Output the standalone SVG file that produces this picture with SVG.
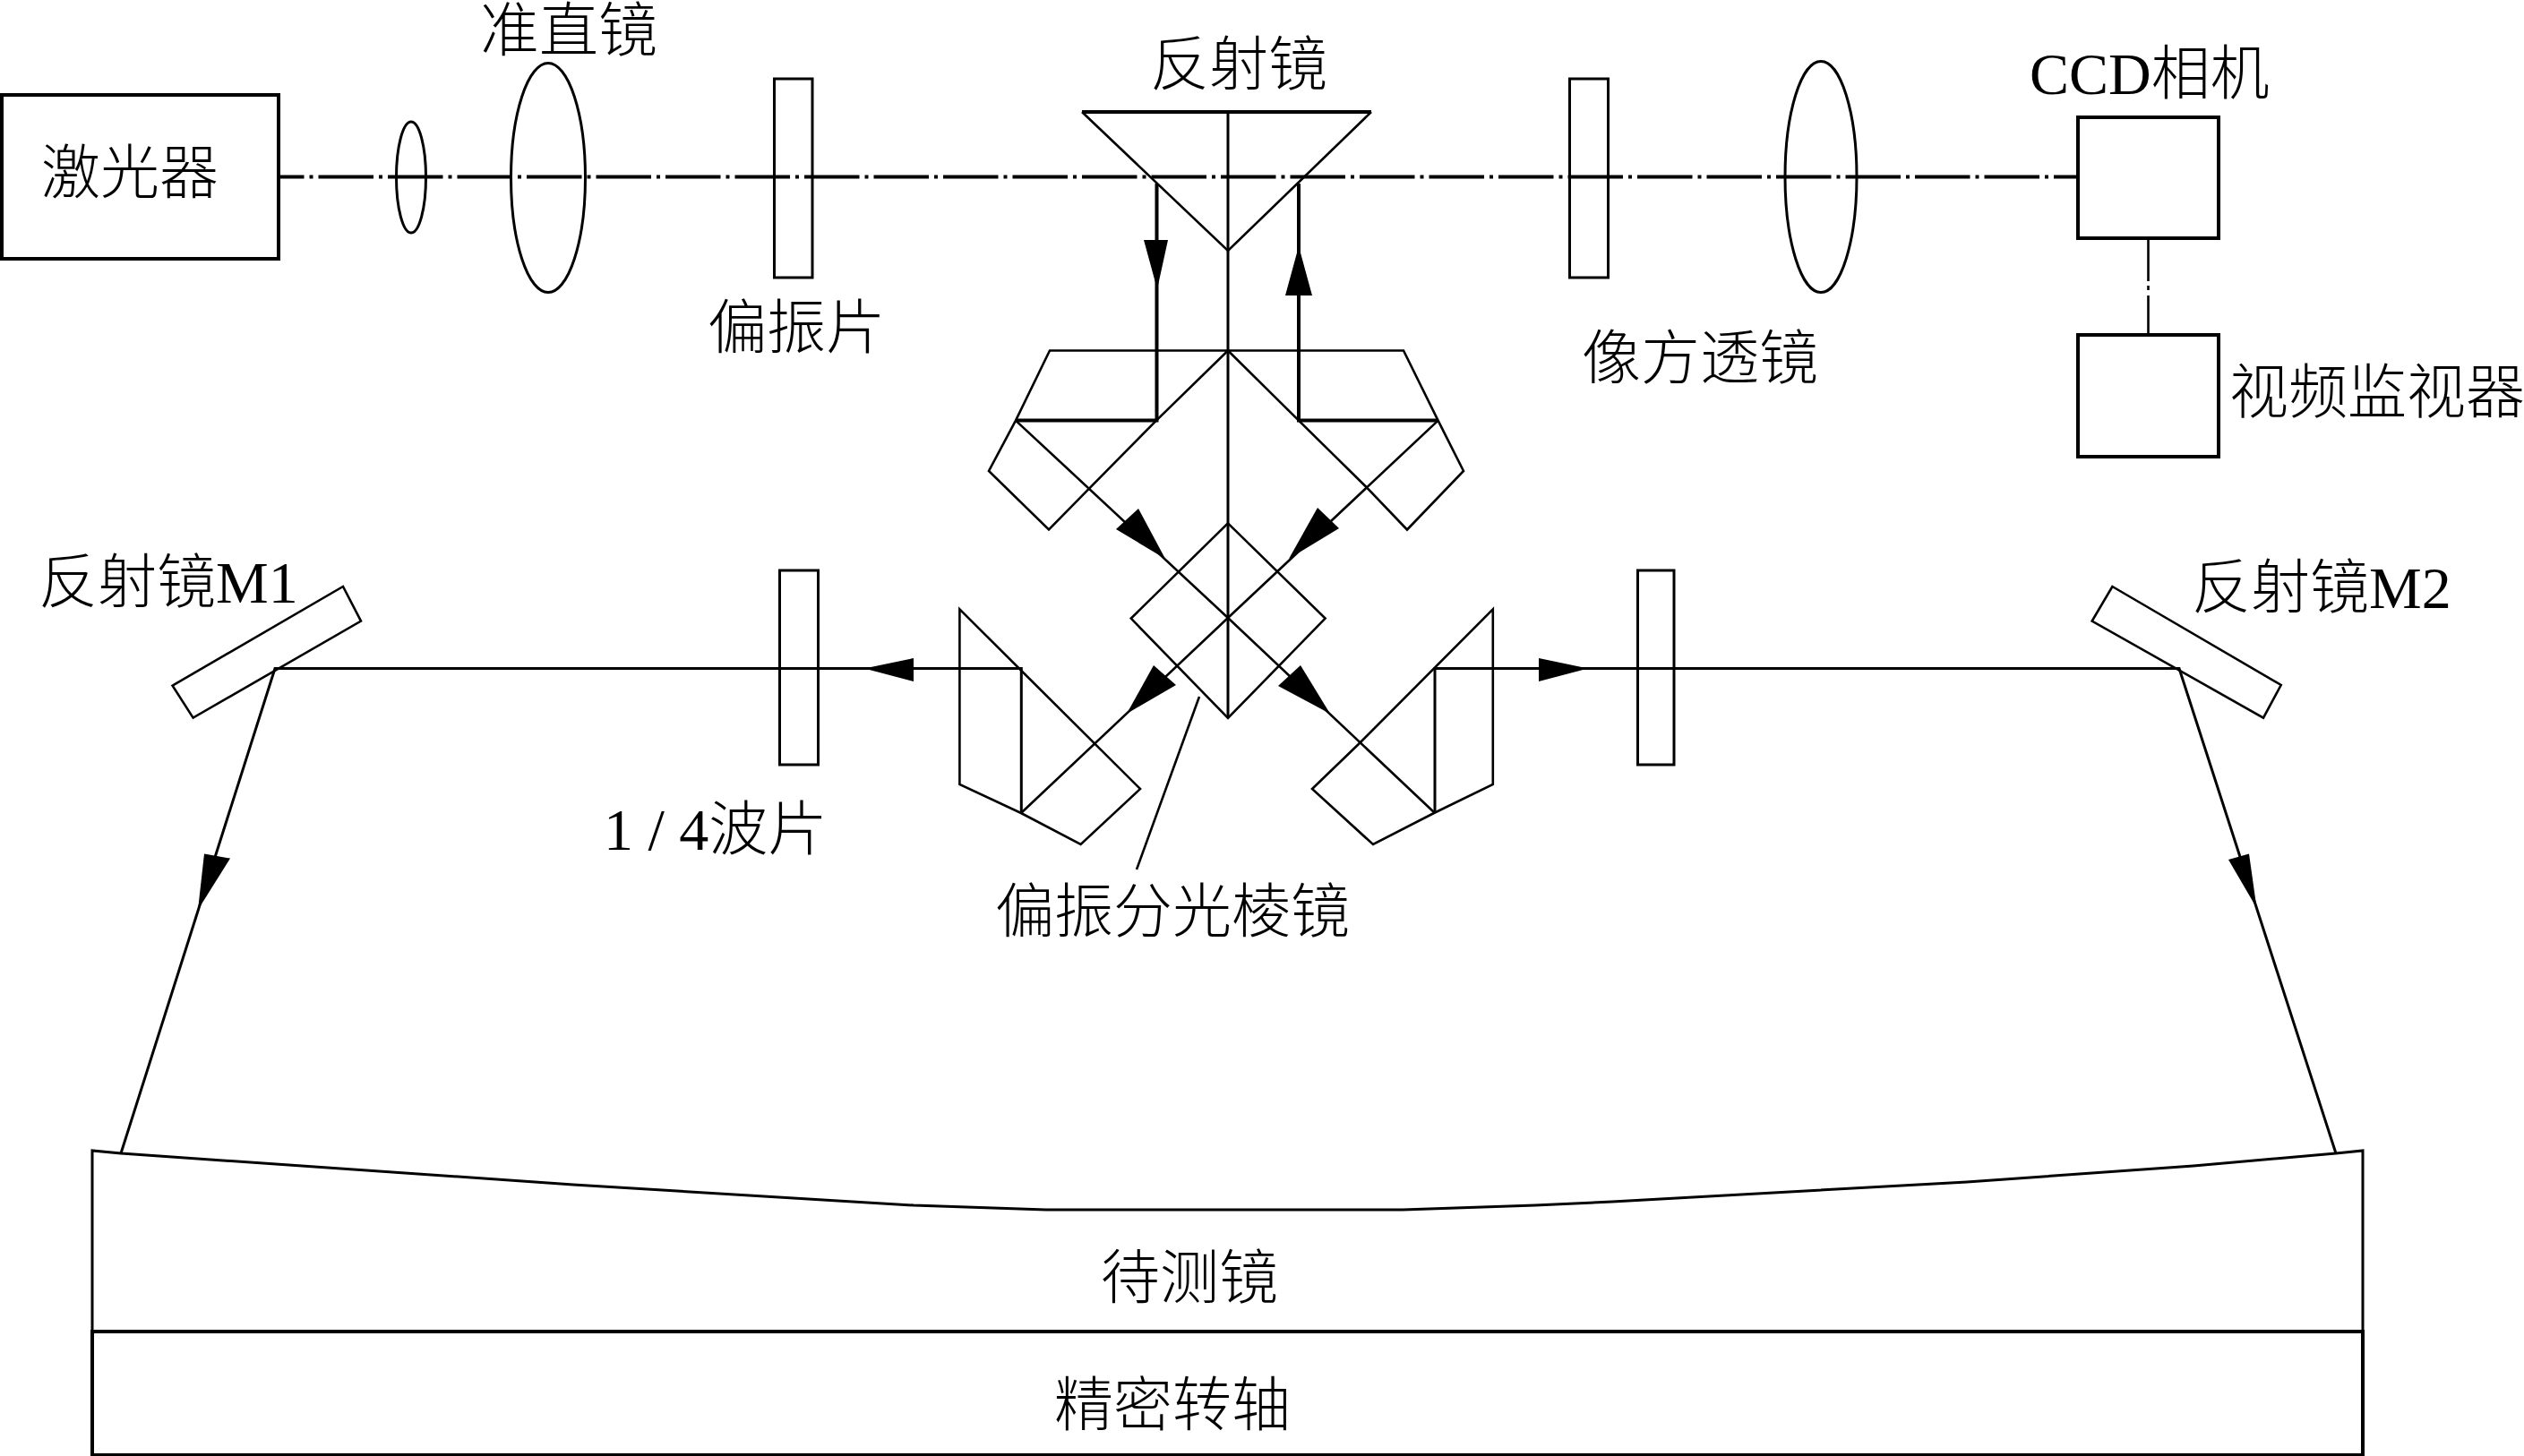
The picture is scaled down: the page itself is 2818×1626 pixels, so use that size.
<svg xmlns="http://www.w3.org/2000/svg" width="2818" height="1626" viewBox="0 0 2818 1626">
<style>
.s{fill:none;stroke:#000;stroke-width:3;stroke-linejoin:miter}
.t{fill:none;stroke:#000;stroke-width:2.6;stroke-linejoin:miter}
.k{fill:none;stroke:#000;stroke-width:4}
.a{fill:#000;stroke:none}
text{font-family:"Liberation Serif","Noto Sans CJK SC",serif;font-size:66px;font-weight:300;fill:#000}
</style>
<rect width="2818" height="1626" fill="#fff"/>
<g id="connectors">
<path class="k" d="M312 197.5H2319" stroke-dasharray="61.5 6 4 6" stroke-dashoffset="34"/>
<path class="t" d="M2398.5 266V374" stroke-dasharray="48 5 5 6 60"/>
<path class="s" d="M1371 125V802"/>
<path class="k" d="M1291.5 205V469.6H1134"/>
<path class="k" d="M1450 205V469.6H1605.6"/>
<path class="t" d="M1134 469.6L1371 690L1602 908"/>
<path class="t" d="M1605.6 469.6L1371 690L1140 908"/>
<path class="s" d="M1140.3 908V746.5H307L135 1288"/>
<path class="s" d="M1602 908V746.5H2433L2608 1288"/>
<path class="t" d="M1339 778L1269 971"/>
<polygon class="a" points="1277,268 1304,268 1292,323"/>
<polygon class="a" points="1435,330 1465,330 1450,275"/>
<polygon class="a" points="1246,591 1271,568 1301,624"/>
<polygon class="a" points="1471,567 1495,590 1439,624"/>
<polygon class="a" points="1288,743 1313,765 1258,797"/>
<polygon class="a" points="1452,743 1427,766 1485,797"/>
<polygon class="a" points="1020,735 1020,761 965,746.5"/>
<polygon class="a" points="1718,735 1718,761 1773,746.5"/>
<polygon class="a" points="228,953.4 257,958.6 221,1016"/>
<polygon class="a" points="2488,960 2511,953.4 2519.5,1014"/>
</g>
<g id="laser"><rect class="k" x="2" y="106" width="309" height="183"/><text x="46" y="216">激光器</text></g>
<g id="lens-small"><ellipse class="s" cx="459" cy="198" rx="16.5" ry="62"/></g>
<g id="collimator"><ellipse class="s" cx="612" cy="198.5" rx="41.5" ry="128"/><text x="536" y="57">准直镜</text></g>
<g id="polarizer"><rect class="s" x="864.5" y="88" width="42.5" height="222"/><text x="790" y="389">偏振片</text></g>
<g id="top-mirror"><path class="k" d="M1208 125H1531"/><path class="t" d="M1208 125L1371 280L1531 125"/><text x="1284" y="95">反射镜</text></g>
<g id="image-polarizer"><rect class="s" x="1752.5" y="88" width="43" height="222"/></g>
<g id="image-lens"><ellipse class="s" cx="2033" cy="197.5" rx="40" ry="129"/><text x="1766" y="423">像方透镜</text></g>
<g id="ccd"><rect class="k" x="2320" y="131" width="157" height="135"/><text x="2266" y="105">CCD相机</text></g>
<g id="monitor"><rect class="k" x="2320" y="374" width="157" height="136"/><text x="2489" y="461">视频监视器</text></g>
<g id="prism-upper-left"><path class="t" d="M1371 391.5H1172L1134 469.6L1104 526L1171 591.5L1217 544.6L1291 469.6L1371 391.5"/></g>
<g id="prism-upper-right"><path class="t" d="M1371 391.5H1567L1605.6 469.6L1634 526L1571 591.5L1524.5 543L1450 469.6L1371 391.5"/></g>
<g id="prism-lower-left"><path class="t" d="M1071.4 680.4V876L1140 908L1206.6 943L1273 881L1071.4 680.4Z"/></g>
<g id="prism-lower-right"><path class="t" d="M1666.8 680.4V876L1601 908L1533 943L1465 881L1517.9 830L1666.8 680.4Z"/></g>
<g id="beam-splitter"><polygon class="t" points="1371,584.4 1479.6,690.6 1371,802 1262.8,690.6"/><text x="1111" y="1041">偏振分光棱镜</text></g>
<g id="quarter-left"><rect class="s" x="870.5" y="637" width="43" height="217"/><text x="674" y="949" xml:space="preserve">1 / 4波片</text></g>
<g id="quarter-right"><rect class="s" x="1828.5" y="637" width="40.5" height="217"/></g>
<g id="mirror-m1"><polygon class="t" points="383,655 403,693.6 215.6,801.6 192.6,765.6"/><text x="43" y="673">反射镜M1</text></g>
<g id="mirror-m2"><polygon class="t" points="2358.4,655 2546.7,765 2527,801.6 2335.7,693.6"/><text x="2447" y="679">反射镜M2</text></g>
<g id="test-mirror"><path class="s" d="M103 1487V1285L135 1288L640 1323L1020 1346L1168 1351H1566L1714 1346L1800 1342L2196 1320L2449 1302L2608 1288L2638 1285V1487"/><text x="1229" y="1450">待测镜</text></g>
<g id="spindle"><rect class="k" x="103" y="1487" width="2535" height="138"/><text x="1177" y="1592">精密转轴</text></g>
</svg>
